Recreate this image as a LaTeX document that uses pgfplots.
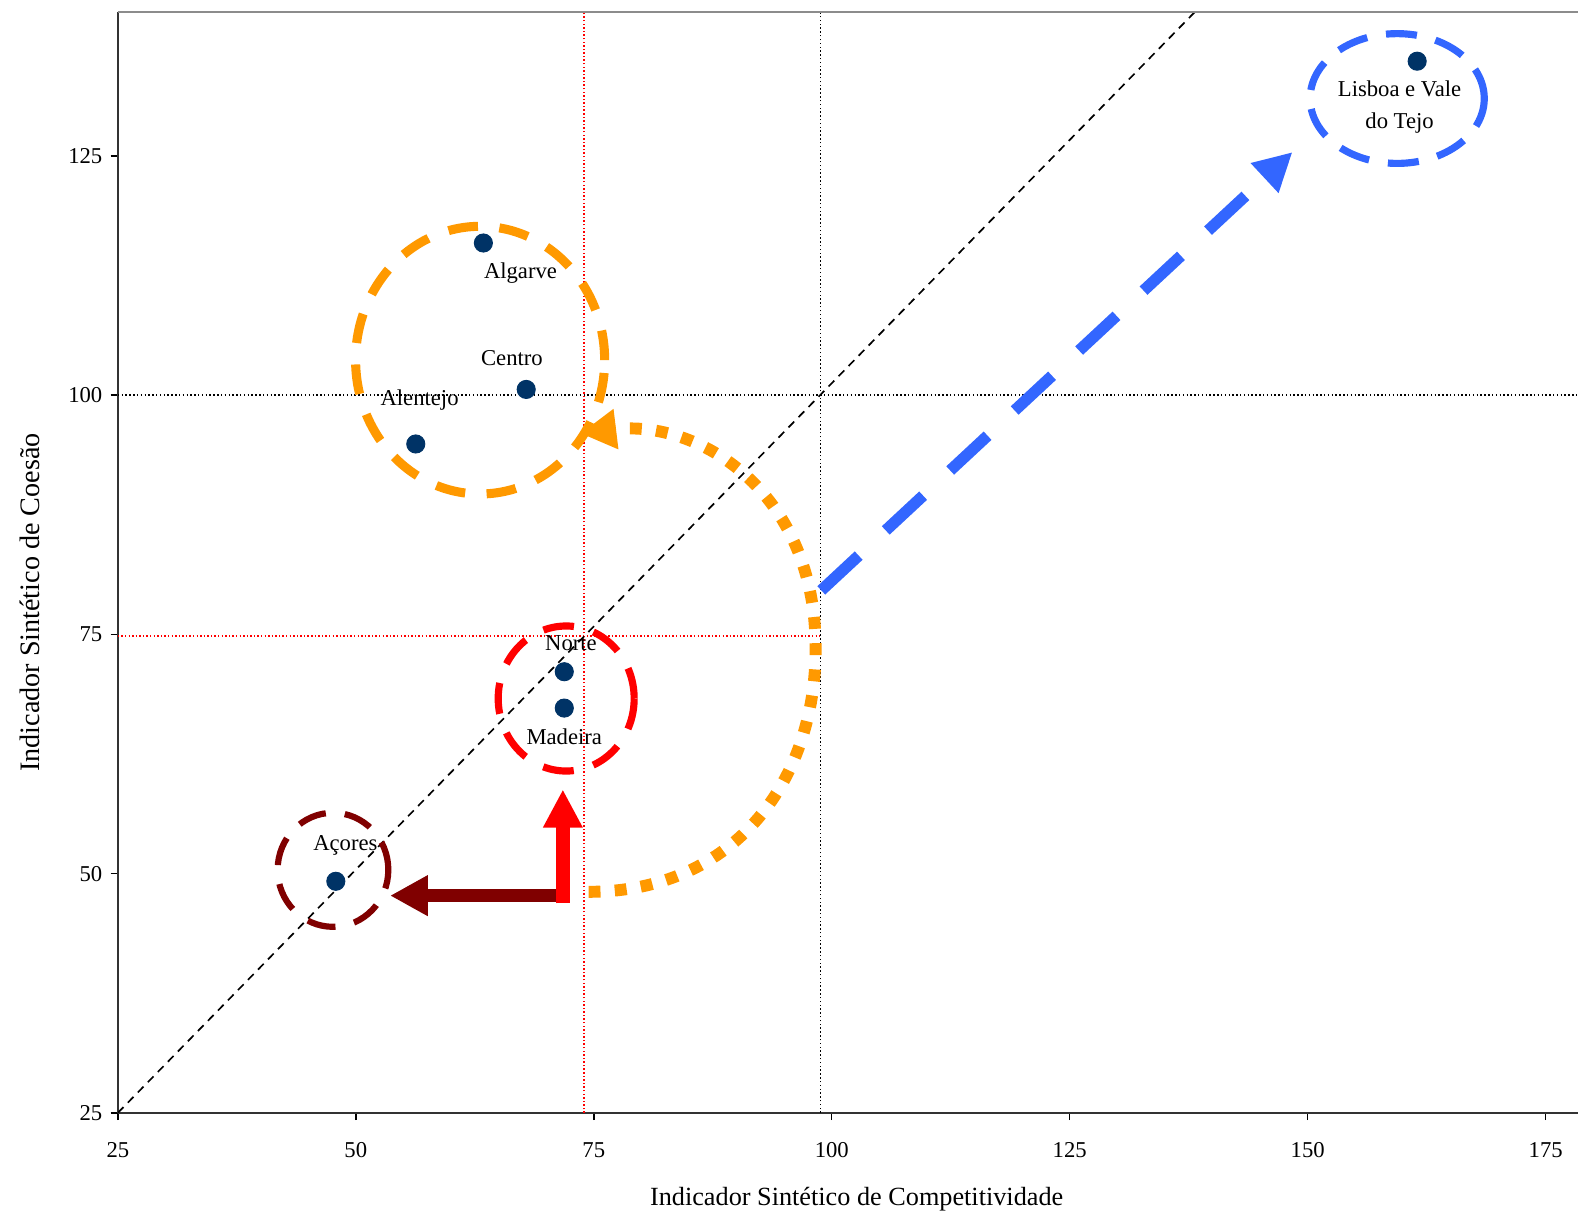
\documentclass[border=0pt]{standalone}
\usepackage{fontspec}
\setmainfont{Liberation Serif}
\usepackage{pgfplots}
\pgfplotsset{compat=1.18}
\usetikzlibrary{arrows.meta}
\definecolor{navy}{HTML}{003366}
\definecolor{orng}{HTML}{FF9900}
\definecolor{maroon}{HTML}{800000}
\definecolor{blu}{HTML}{3366FF}
\begin{document}
\begin{tikzpicture}
\begin{axis}[
  scale only axis, width=612.1pt, height=461.3pt,
  xmin=25, xmax=178.4, ymin=25, ymax=140,
  xtick={25,50,...,175}, ytick={25,50,...,125},
  axis lines*=left,
  axis line style={black!80, line width=0.8pt},
  tick align=outside, major tick length=3pt,
  tick style={black, line width=0.6pt},
  /pgf/number format/assume math mode=true,
  tick label style={font=\fontsize{9.5}{11}\selectfont},
  xticklabel style={yshift=-6pt},
  yticklabel style={xshift=0pt},
  clip mode=individual,
]
% reference lines
\addplot[red, line width=0.6pt, dash pattern=on 0.6pt off 0.9pt] coordinates {(73.96,25) (73.96,140)};
\addplot[red, line width=0.6pt, dash pattern=on 0.6pt off 0.9pt] coordinates {(25,74.83) (98.8,74.83)};
\addplot[black, line width=0.6pt, dash pattern=on 0.6pt off 1.0pt] coordinates {(98.8,25) (98.8,140)};
\addplot[black, line width=0.6pt, dash pattern=on 0.6pt off 1.0pt] coordinates {(25,100.03) (178.4,100.03)};
\addplot[black, line width=0.7pt, dash pattern=on 3.4pt off 2.6pt] coordinates {(25,25) (98.8,100.03) (138.1,140)};
\draw[black!45, line width=0.8pt] (rel axis cs:0,1) -- (rel axis cs:1,1);

% annotation ellipses
\draw[orng, line width=3.8pt, dash pattern=on 12.5pt off 9pt] (axis cs:63.06,103.66) ellipse [x radius=52.2pt, y radius=56.1pt];
\draw[red, line width=3pt, dash pattern=on 13pt off 8.5pt] (axis cs:72.1,68.3) ellipse [x radius=28.5pt, y radius=30.4pt];
\draw[maroon, line width=2.6pt, dash pattern=on 12pt off 8pt] (axis cs:47.6,50.4) ellipse [x radius=23.2pt, y radius=23.9pt];
\draw[blu, line width=3pt, dash pattern=on 13pt off 8pt] (axis cs:159.4,131.0) ellipse [x radius=36.5pt, y radius=27.2pt];

% arrows
\draw[blu, line width=4.8pt, dash pattern=on 21.4pt off 15.5pt, -{Triangle[length=16pt,width=16pt]}] (axis cs:98.9,79.6) -- (axis cs:148.4,125.4);
\draw[orng, line width=5pt, dash pattern=on 5pt off 6pt, -{Triangle[length=15pt,width=16pt]}]
  (axis cs:74.45,48.1) .. controls (axis cs:90,48.1) and (axis cs:98.5,60) .. (axis cs:98.3,74)
  .. controls (axis cs:98.1,90) and (axis cs:86,97.5) .. (axis cs:73.6,96.0);
\draw[maroon, line width=5.6pt, -{Triangle[length=15.8pt,width=16pt]}] (axis cs:71.05,47.7) -- (axis cs:53.6,47.7);
\draw[red, line width=5.6pt, -{Triangle[length=16pt,width=15.5pt]}] (axis cs:71.75,46.9) -- (axis cs:71.75,58.8);

% data points
\addplot[only marks, mark=*, mark size=3.8pt, mark options={draw=navy, fill=navy}] coordinates {
(161.5,134.9) (63.4,115.9) (67.9,100.6) (56.3,94.9) (71.9,71.1) (71.9,67.3) (47.9,49.2)};

% point labels
\begin{scope}[every node/.style={font=\fontsize{9.5}{13.6}\selectfont, inner sep=0pt}]
\node[align=center] at (axis cs:159.65,130.1) {Lisboa e Vale\\do Tejo};
\node at (axis cs:67.3,112.8) {Algarve};
\node at (axis cs:66.4,103.9) {Centro};
\node at (axis cs:56.7,99.5) {Alentejo};
\node at (axis cs:72.6,74.05) {Norte};
\node at (axis cs:71.9,64.3) {Madeira};
\node at (axis cs:48.9,52.9) {Açores};
\end{scope}
\end{axis}
\node[font=\fontsize{11}{13}\selectfont] at ([xshift=309.7pt, yshift=-36.2pt]current axis.south west) {Indicador Sintético de Competitividade};
\node[rotate=90, font=\fontsize{11.8}{14}\selectfont] at ([xshift=-36.7pt, yshift=213.9pt]current axis.south west) {Indicador Sintético de Coesão};
\path ([xshift=-49.4pt,yshift=-41.7pt]current axis.south west) rectangle ([yshift=5.2pt]current axis.north east);
\end{tikzpicture}
\end{document}
